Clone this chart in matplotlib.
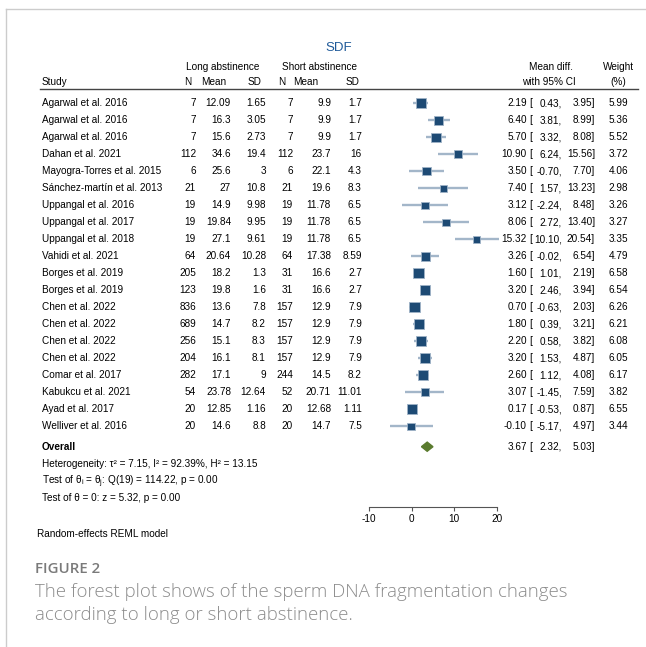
import numpy as np
import matplotlib.pyplot as plt
from matplotlib.transforms import blended_transform_factory
from matplotlib.lines import Line2D

plt.rcParams['font.family'] = ['Liberation Sans', 'DejaVu Sans']
plt.rcParams['mathtext.fontset'] = 'custom'
plt.rcParams['mathtext.rm'] = 'Liberation Sans'
plt.rcParams['mathtext.it'] = 'Liberation Sans:italic'
plt.rcParams['axes.unicode_minus'] = False

# study data
studies = ["Agarwal et al. 2016", "Agarwal et al. 2016", "Agarwal et al. 2016",
           "Dahan et al. 2021", "Mayogra-Torres et al. 2015",
           "Sánchez-martín et al. 2013", "Uppangal et al. 2016",
           "Uppangal et al. 2017", "Uppangal et al. 2018", "Vahidi et al. 2021",
           "Borges et al. 2019", "Borges et al. 2019", "Chen et al. 2022",
           "Chen et al. 2022", "Chen et al. 2022", "Chen et al. 2022",
           "Comar et al. 2017", "Kabukcu et al. 2021", "Ayad et al. 2017",
           "Welliver et al. 2016"]
n_long = [7, 7, 7, 112, 6, 21, 19, 19, 19, 64, 205, 123, 836, 689, 256, 204, 282, 54, 20, 20]
mean_long = [12.09, 16.3, 15.6, 34.6, 25.6, 27, 14.9, 19.84, 27.1, 20.64,
             18.2, 19.8, 13.6, 14.7, 15.1, 16.1, 17.1, 23.78, 12.85, 14.6]
sd_long = [1.65, 3.05, 2.73, 19.4, 3, 10.8, 9.98, 9.95, 9.61, 10.28,
           1.3, 1.6, 7.8, 8.2, 8.3, 8.1, 9, 12.64, 1.16, 8.8]
n_short = [7, 7, 7, 112, 6, 21, 19, 19, 19, 64, 31, 31, 157, 157, 157, 157, 244, 52, 20, 20]
mean_short = [9.9, 9.9, 9.9, 23.7, 22.1, 19.6, 11.78, 11.78, 11.78, 17.38,
              16.6, 16.6, 12.9, 12.9, 12.9, 12.9, 14.5, 20.71, 12.68, 14.7]
sd_short = [1.7, 1.7, 1.7, 16, 4.3, 8.3, 6.5, 6.5, 6.5, 8.59,
            2.7, 2.7, 7.9, 7.9, 7.9, 7.9, 8.2, 11.01, 1.11, 7.5]
mean_diff = [2.19, 6.40, 5.70, 10.90, 3.50, 7.40, 3.12, 8.06, 15.32, 3.26,
             1.60, 3.20, 0.70, 1.80, 2.20, 3.20, 2.60, 3.07, 0.17, -0.10]
ci_low = [0.43, 3.81, 3.32, 6.24, -0.70, 1.57, -2.24, 2.72, 10.10, -0.02,
          1.01, 2.46, -0.63, 0.39, 0.58, 1.53, 1.12, -1.45, -0.53, -5.17]
ci_high = [3.95, 8.99, 8.08, 15.56, 7.70, 13.23, 8.48, 13.40, 20.54, 6.54,
           2.19, 3.94, 2.03, 3.21, 3.82, 4.87, 4.08, 7.59, 0.87, 4.97]
weight = [5.99, 5.36, 5.52, 3.72, 4.06, 2.98, 3.26, 3.27, 3.35, 4.79,
          6.58, 6.54, 6.26, 6.21, 6.08, 6.05, 6.17, 3.82, 6.55, 3.44]
overall = [3.67, 2.32, 5.03]
xticks = [-10, 0, 10, 20]

W, H = 646, 647
fig = plt.figure(figsize=(W / 100, H / 100), dpi=100)


def fx(px):
    return px / W


def fy(py):
    return 1 - py / H


# forest panel: x from -10 (px 369) to 20 (px 496.7), rows 17 px apart
row0, step = 103.3, 17.0
ax = fig.add_axes([fx(369), fy(506.7), fx(496.7) - fx(369), (506.7 - 89) / H])
ax.set_xlim(-10, 20)
ax.set_ylim((506.7 - row0) / step, (89 - row0) / step)
ax.patch.set_alpha(0)
for s in ['top', 'left', 'right']:
    ax.spines[s].set_visible(False)
ax.spines['bottom'].set_bounds(-10, 20)
ax.spines['bottom'].set_color('#555555')
ax.spines['bottom'].set_linewidth(0.8)
ax.set_yticks([])
ax.set_xticks(xticks)
ax.tick_params(axis='x', length=3, width=0.8, color='#555555', labelsize=7.2, pad=2)

rows = np.arange(len(studies))
ax.hlines(rows, ci_low, ci_high, color='#a3b6c9', lw=1.7, clip_on=False, zorder=2)
ax.scatter(mean_diff, rows, s=np.array(weight) * 8.5, marker='s', color='#1d4a74',
           edgecolor='#9fb3c7', linewidth=0.6, clip_on=False, zorder=3)

yo = (446.7 - row0) / step
ax.fill([overall[1], overall[0], overall[2], overall[0]],
        [yo, yo - 0.27, yo, yo + 0.27], color='#5a7b2e', zorder=3, clip_on=False)

tr = blended_transform_factory(fig.transFigure, ax.transData)
fs = 7.2
for i in rows:
    ax.text(fx(42), i, studies[i], transform=tr, fontsize=fs, va='center')
    cols = [(196, n_long[i]), (231, mean_long[i]), (266, sd_long[i]),
            (293, n_short[i]), (331, mean_short[i]), (362, sd_short[i])]
    for px, v in cols:
        ax.text(fx(px), i, f"{v:g}", transform=tr, fontsize=fs, va='center', ha='right')
    ax.text(fx(527), i, f"{mean_diff[i]:.2f}", transform=tr, fontsize=fs, va='center', ha='right')
    ax.text(fx(529), i, "[", transform=tr, fontsize=fs, va='center', ha='left')
    ax.text(fx(562), i, f"{ci_low[i]:.2f},", transform=tr, fontsize=fs, va='center', ha='right')
    ax.text(fx(595), i, f"{ci_high[i]:.2f}]", transform=tr, fontsize=fs, va='center', ha='right')
    ax.text(fx(628), i, f"{weight[i]:.2f}", transform=tr, fontsize=fs, va='center', ha='right')

ax.text(fx(42), yo, "Overall", transform=tr, fontsize=fs, va='center', fontweight='bold')
ax.text(fx(527), yo, f"{overall[0]:.2f}", transform=tr, fontsize=fs, va='center', ha='right')
ax.text(fx(529), yo, "[", transform=tr, fontsize=fs, va='center', ha='left')
ax.text(fx(562), yo, f"{overall[1]:.2f},", transform=tr, fontsize=fs, va='center', ha='right')
ax.text(fx(595), yo, f"{overall[2]:.2f}]", transform=tr, fontsize=fs, va='center', ha='right')

# header
fig.text(fx(339), fy(48), "SDF", fontsize=9.5, color='#1f5a99', ha='center', va='center')
fig.text(fx(223), fy(66.7), "Long abstinence", fontsize=fs, ha='center', va='center')
fig.text(fx(320), fy(66.7), "Short abstinence", fontsize=fs, ha='center', va='center')
fig.text(fx(42), fy(81.7), "Study", fontsize=fs, va='center')
for px, lab in [(188, "N"), (214, "Mean"), (255, "SD"), (282, "N"), (306, "Mean"), (352.5, "SD")]:
    fig.text(fx(px), fy(81.7), lab, fontsize=fs, ha='center', va='center')
fig.text(fx(551), fy(66.7), "Mean diff.", fontsize=fs, ha='center', va='center')
fig.text(fx(549), fy(81.7), "with 95% CI", fontsize=fs, ha='center', va='center')
fig.text(fx(619), fy(66.7), "Weight", fontsize=fs, ha='center', va='center')
fig.text(fx(618), fy(81.7), "(%)", fontsize=fs, ha='center', va='center')
fig.add_artist(Line2D([fx(40), fx(638)], [fy(89), fy(89)], color='#444444', lw=1.0))

# footnotes
fig.text(fx(42), fy(464.3), "Heterogeneity: τ² = 7.15, I² = 92.39%, H² = 13.15", fontsize=fs, va='center')
fig.text(fx(42), fy(481.7), r"Test of θ$_\mathrm{i}$ = θ$_\mathrm{j}$: Q(19) = 114.22, p = 0.00", fontsize=fs, va='center')
fig.text(fx(42), fy(498.3), "Test of θ = 0: z = 5.32, p = 0.00", fontsize=fs, va='center')
fig.text(fx(37), fy(534.3), "Random-effects REML model", fontsize=fs, va='center')

# page frame and caption
fig.add_artist(Line2D([fx(6), 1], [fy(9), fy(9)], color='#cccccc', lw=1.0))
fig.add_artist(Line2D([fx(6), fx(6)], [fy(9), 0], color='#cccccc', lw=1.0))
fig.text(fx(35), fy(569), "FIGURE 2", fontsize=10.8, color='#7a7a7a', va='center',
         family=['Open Sans', 'DejaVu Sans'], fontweight='semibold')
fig.text(fx(35), fy(592), "The forest plot shows of the sperm DNA fragmentation changes",
         fontsize=13.4, color='#8c8c8c', va='center', family=['Open Sans', 'DejaVu Sans'], fontweight='light')
fig.text(fx(35), fy(615), "according to long or short abstinence.",
         fontsize=13.4, color='#8c8c8c', va='center', family=['Open Sans', 'DejaVu Sans'], fontweight='light')

fig.savefig("out.png", dpi=100)
